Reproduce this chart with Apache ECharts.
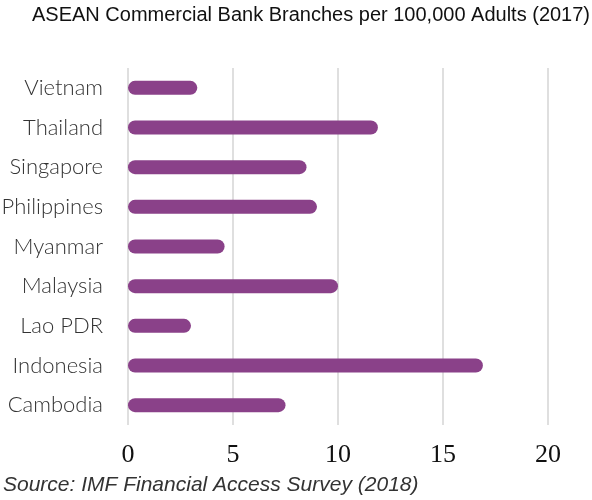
<!DOCTYPE html>
<html>
<head>
<meta charset="utf-8">
<title>ASEAN Commercial Bank Branches</title>
<script src="https://cdn.jsdelivr.net/npm/echarts@6/dist/echarts.min.js"></script>
<style>
html, body { margin: 0; padding: 0; background: #fff; }
#chart { width: 592px; height: 500px; }
</style>
</head>
<body>
<div id="chart"></div>
<script>
// bottom-to-top order for the category axis
var countries = ['Cambodia', 'Indonesia', 'Lao PDR', 'Malaysia', 'Myanmar', 'Philippines', 'Singapore', 'Thailand', 'Vietnam'];
var branches = [7.5, 16.9, 3.0, 10.0, 4.6, 9.0, 8.5, 11.9, 3.3];
var xTicks = [0, 5, 10, 15, 20];

var chart = echarts.init(document.getElementById('chart'));

var option = {
	backgroundColor: '#fff',
	animation: false,
	title: [
		{
			text: 'ASEAN Commercial Bank Branches per 100,000 Adults (2017)',
			left: 311,
			textAlign: 'center',
			top: 5,
			padding: 0,
			textStyle: {
				fontFamily: 'Liberation Sans',
				fontSize: 20,
				fontWeight: 'normal',
				color: '#111'
			}
		},
		{
			text: 'Source: IMF Financial Access Survey (2018)',
			left: 3,
			top: 475,
			padding: 0,
			textStyle: {
				fontFamily: 'Liberation Sans',
				fontSize: 21,
				fontStyle: 'italic',
				fontWeight: 'normal',
				color: '#333'
			}
		}
	],
	grid: {
		left: 128,
		right: 44,
		top: 68,
		height: 357,
		outerBoundsMode: 'none'
	},
	xAxis: {
		type: 'value',
		min: xTicks[0],
		max: xTicks[xTicks.length - 1],
		interval: 5,
		axisLine: { show: false },
		axisTick: { show: false },
		splitLine: { lineStyle: { color: '#d4d4d4', width: 1.5 } },
		axisLabel: {
			margin: 17,
			fontFamily: 'Liberation Serif',
			fontSize: 26,
			color: '#111'
		}
	},
	yAxis: {
		type: 'category',
		data: countries,
		axisLine: { show: false },
		axisTick: { show: false },
		axisLabel: {
			margin: 25,
			fontFamily: 'Lato',
			fontWeight: 300,
			fontSize: 22,
			color: '#333'
		}
	},
	series: [
		{
			type: 'bar',
			data: branches,
			barWidth: 14,
			itemStyle: {
				color: '#8a4189',
				borderRadius: 7
			}
		}
	]
};

chart.setOption(option);
</script>
</body>
</html>
